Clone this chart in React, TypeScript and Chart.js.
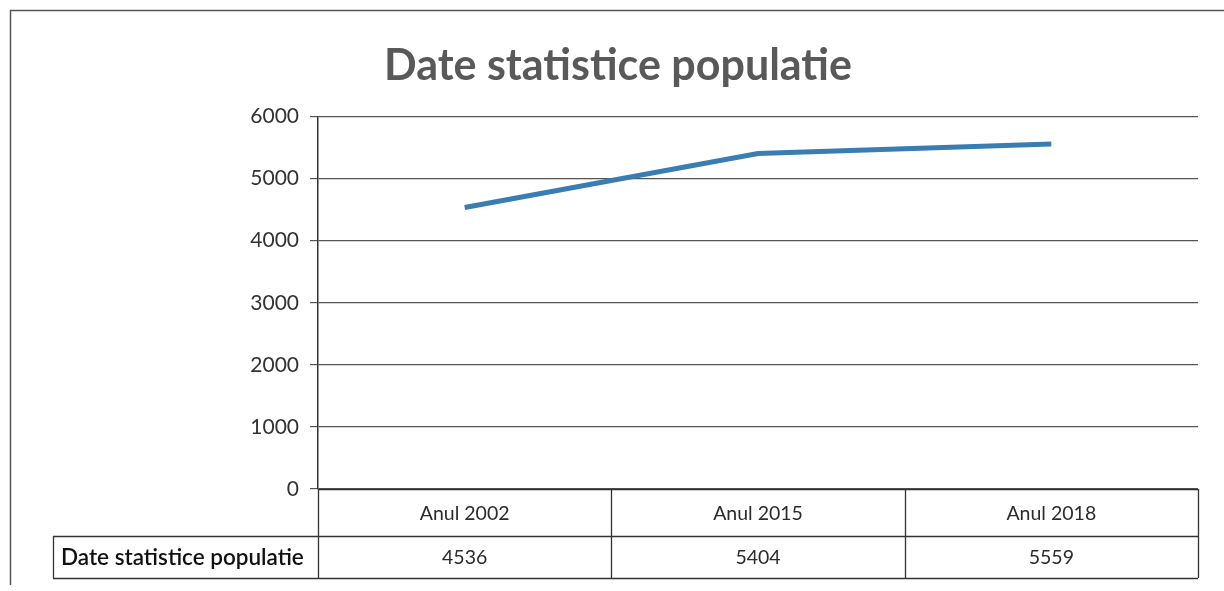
import React, { useEffect, useRef } from "react";
import { Chart, registerables } from "chart.js";

Chart.register(...registerables);

const chartTitle = "Date statistice populatie";
const seriesName = "Date statistice populatie";
const categories = ["Anul 2002", "Anul 2015", "Anul 2018"];
const populationValues = [4536, 5404, 5559];
const yMin = 0;
const yMax = 6000;
const yStep = 1000;

const FONT = "Lato, 'Open Sans', sans-serif";

const frameAndTable = {
  id: "frameAndTable",
  beforeDraw(chart: any) {
    const ctx = chart.ctx;
    ctx.save();
    ctx.fillStyle = "#ffffff";
    ctx.fillRect(0, 0, chart.width, chart.height);
    ctx.strokeStyle = "#555";
    ctx.lineWidth = 1.5;
    ctx.beginPath();
    ctx.moveTo(10.5, chart.height - 6);
    ctx.lineTo(10.5, 10.5);
    ctx.lineTo(chart.width, 10.5);
    ctx.stroke();
    ctx.restore();
  },
  afterDraw(chart: any) {
    const ctx = chart.ctx;
    const x = chart.scales.x;
    const area = chart.chartArea;
    const n = categories.length;
    const band = (area.right - area.left) / n;
    const top = area.bottom;
    const mid = top + 47;
    const bottom = top + 89;
    const legendLeft = 53;
    ctx.save();
    ctx.strokeStyle = "#333";
    ctx.lineWidth = 1.3;
    ctx.beginPath();
    ctx.moveTo(area.left, top + 0.5);
    ctx.lineTo(area.right, top + 0.5);
    ctx.moveTo(legendLeft, mid + 0.5);
    ctx.lineTo(area.right, mid + 0.5);
    ctx.moveTo(legendLeft, bottom + 0.5);
    ctx.lineTo(area.right, bottom + 0.5);
    for (let i = 0; i <= n; i++) {
      const vx = Math.round(area.left + i * band) + 0.5;
      ctx.moveTo(vx, top);
      ctx.lineTo(vx, bottom);
    }
    ctx.moveTo(legendLeft + 0.5, mid);
    ctx.lineTo(legendLeft + 0.5, bottom);
    ctx.stroke();

    ctx.textAlign = "center";
    ctx.textBaseline = "middle";
    ctx.font = `19.5px ${FONT}`;
    ctx.fillStyle = "#2b2b2b";
    categories.forEach((c, i) => {
      const cx = x.getPixelForValue(i);
      ctx.fillText(c, cx, (top + mid) / 2 + 1);
      ctx.fillText(String(populationValues[i]), cx, (mid + bottom) / 2 + 1);
    });
    ctx.textAlign = "left";
    ctx.fillStyle = "#111";
    ctx.font = `600 22.5px ${FONT}`;
    ctx.fillText(seriesName, legendLeft + 8, (mid + bottom) / 2 + 1);
    ctx.restore();
  },
};

export default function App() {
  const ref = useRef<HTMLCanvasElement | null>(null);
  useEffect(() => {
    if (!ref.current) return;
    const chart = new Chart(ref.current, {
      type: "line",
      data: {
        labels: categories,
        datasets: [
          {
            label: seriesName,
            data: populationValues,
            borderColor: "#3a7db3",
            borderWidth: 5,
            pointRadius: 0,
            tension: 0,
            fill: false,
          },
        ],
      },
      options: {
        animation: false,
        responsive: true,
        maintainAspectRatio: false,
        layout: { padding: { left: 38, right: 26, top: 0, bottom: 102 } },
        plugins: {
          legend: { display: false },
          tooltip: { enabled: false },
          title: {
            display: true,
            text: chartTitle,
            color: "#595959",
            font: { family: FONT, size: 43, weight: "bold" },
            padding: { top: 40, bottom: 25 },
          },
        },
        scales: {
          x: {
            type: "category",
            offset: true,
            display: false,
            grid: { display: false },
          },
          y: {
            min: yMin,
            max: yMax,
            ticks: {
              stepSize: yStep,
              color: "#333",
              font: { family: FONT, size: 21 },
              padding: 11,
              callback: (v: any) => String(v),
            },
            grid: {
              color: "#555",
              lineWidth: 1.2,
              tickLength: 8,
              drawTicks: true,
            },
            border: { display: true, color: "#333", width: 1.5 },
            afterFit(scale: any) {
              scale.width = 280;
            },
          },
        },
      },
      plugins: [frameAndTable],
    });
    return () => chart.destroy();
  }, []);
  return (
    <div style={{ position: "fixed", left: 0, top: 0, width: 1224, height: 591, background: "#fff" }}>
      <canvas ref={ref} />
    </div>
  );
}
